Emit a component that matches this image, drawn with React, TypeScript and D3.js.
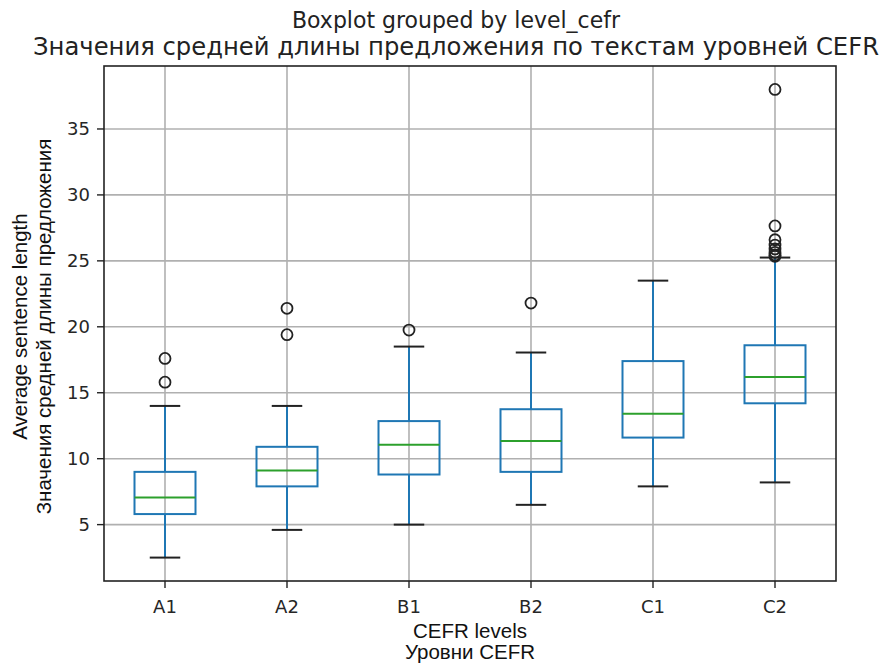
import React from 'react';
import * as d3 from 'd3';

const levels = ['A1', 'A2', 'B1', 'B2', 'C1', 'C2'];
const whiskerLow = [2.5, 4.6, 5.0, 6.5, 7.9, 8.2];
const q1 = [5.8, 7.9, 8.8, 9.0, 11.6, 14.2];
const medians = [7.05, 9.1, 11.05, 11.35, 13.4, 16.2];
const q3 = [9.0, 10.9, 12.85, 13.75, 17.4, 18.6];
const whiskerHigh = [14.0, 14.0, 18.5, 18.05, 23.5, 25.25];
const outliers = [
  [17.6, 15.8],
  [21.4, 19.4],
  [19.75],
  [21.8],
  [],
  [38.0, 27.65, 26.6, 26.2, 25.9, 25.65, 25.45, 25.35],
];
const yTicks = [5, 10, 15, 20, 25, 30, 35];

const W = 887;
const H = 664;
const left = 104;
const right = 836;
const top = 66;
const bottom = 581;

export default function App() {
  const allVals = [...whiskerLow, ...whiskerHigh, ...outliers.flat()];
  const lo = d3.min(allVals) as number;
  const hi = d3.max(allVals) as number;
  const pad = (hi - lo) * 0.05;

  const x = d3.scaleLinear().domain([0.5, levels.length + 0.5]).range([left, right]);
  const y = d3.scaleLinear().domain([lo - pad, hi + pad]).range([bottom, top]);

  const step = x(2) - x(1);
  const boxW = step * 0.5;
  const capW = step * 0.25;

  const blue = '#1f77b4';
  const grid = '#b0b0b0';
  const tickFont = 'DejaVu Sans, sans-serif';
  const labelFont = 'Liberation Sans, Arial, sans-serif';

  return (
    <svg width={W} height={H} style={{ position: 'absolute', left: 0, top: 0, background: '#fff' }}>
      <rect x={0} y={0} width={W} height={H} fill="#fff" />

      {/* grid */}
      {levels.map((_, i) => (
        <line key={'gx' + i} x1={x(i + 1)} x2={x(i + 1)} y1={top} y2={bottom} stroke={grid} strokeWidth={1.6} />
      ))}
      {yTicks.map((t) => (
        <line key={'gy' + t} x1={left} x2={right} y1={y(t)} y2={y(t)} stroke={grid} strokeWidth={1.6} />
      ))}

      {/* boxes */}
      {levels.map((lv, i) => {
        const cx = x(i + 1);
        return (
          <g key={lv}>
            <line x1={cx} x2={cx} y1={y(whiskerLow[i])} y2={y(q1[i])} stroke={blue} strokeWidth={2} />
            <line x1={cx} x2={cx} y1={y(q3[i])} y2={y(whiskerHigh[i])} stroke={blue} strokeWidth={2} />
            <line x1={cx - capW / 2} x2={cx + capW / 2} y1={y(whiskerLow[i])} y2={y(whiskerLow[i])} stroke="#222" strokeWidth={2} />
            <line x1={cx - capW / 2} x2={cx + capW / 2} y1={y(whiskerHigh[i])} y2={y(whiskerHigh[i])} stroke="#222" strokeWidth={2} />
            <rect x={cx - boxW / 2} y={y(q3[i])} width={boxW} height={y(q1[i]) - y(q3[i])} fill="none" stroke={blue} strokeWidth={2} />
            <line x1={cx - boxW / 2} x2={cx + boxW / 2} y1={y(medians[i])} y2={y(medians[i])} stroke="#2ca02c" strokeWidth={2} />
            {outliers[i].map((o, j) => (
              <circle key={j} cx={cx} cy={y(o)} r={5.5} fill="none" stroke="#222" strokeWidth={1.8} />
            ))}
          </g>
        );
      })}

      {/* frame */}
      <rect x={left} y={top} width={right - left} height={bottom - top} fill="none" stroke="#222" strokeWidth={1.6} />

      {/* y ticks */}
      {yTicks.map((t) => (
        <g key={'ty' + t}>
          <line x1={left - 7} x2={left} y1={y(t)} y2={y(t)} stroke="#222" strokeWidth={1.4} />
          <text x={left - 14} y={y(t)} dy="0.36em" textAnchor="end" fontFamily={tickFont} fontSize={18} fill="#262626">
            {t}
          </text>
        </g>
      ))}

      {/* x ticks */}
      {levels.map((lv, i) => (
        <g key={'tx' + lv}>
          <line x1={x(i + 1)} x2={x(i + 1)} y1={bottom} y2={bottom + 7} stroke="#222" strokeWidth={1.4} />
          <text x={x(i + 1)} y={bottom + 32} textAnchor="middle" fontFamily={tickFont} fontSize={18} fill="#262626">
            {lv}
          </text>
        </g>
      ))}

      {/* axis labels */}
      <text x={(left + right) / 2} y={638} textAnchor="middle" fontFamily={labelFont} fontSize={20.5} fill="#111">
        CEFR levels
      </text>
      <text x={(left + right) / 2} y={659} textAnchor="middle" fontFamily={labelFont} fontSize={20.5} fill="#111">
        Уровни CEFR
      </text>
      <g transform={`translate(27, ${(top + bottom) / 2 + 3}) rotate(-90)`}>
        <text x={0} y={0} textAnchor="middle" fontFamily={labelFont} fontSize={20.5} fill="#111">
          Average sentence length
        </text>
        <text x={0} y={24} textAnchor="middle" fontFamily={labelFont} fontSize={20.5} fill="#111">
          Значения средней длины предложения
        </text>
      </g>

      {/* title */}
      <text x={456} y={28} textAnchor="middle" fontFamily={tickFont} fontSize={23} fill="#222" textLength={328} lengthAdjust="spacingAndGlyphs">
        Boxplot grouped by level_cefr
      </text>
      <text x={456} y={55} textAnchor="middle" fontFamily={tickFont} fontSize={24} fill="#222" textLength={846} lengthAdjust="spacingAndGlyphs">
        Значения средней длины предложения по текстам уровней CEFR
      </text>
    </svg>
  );
}
